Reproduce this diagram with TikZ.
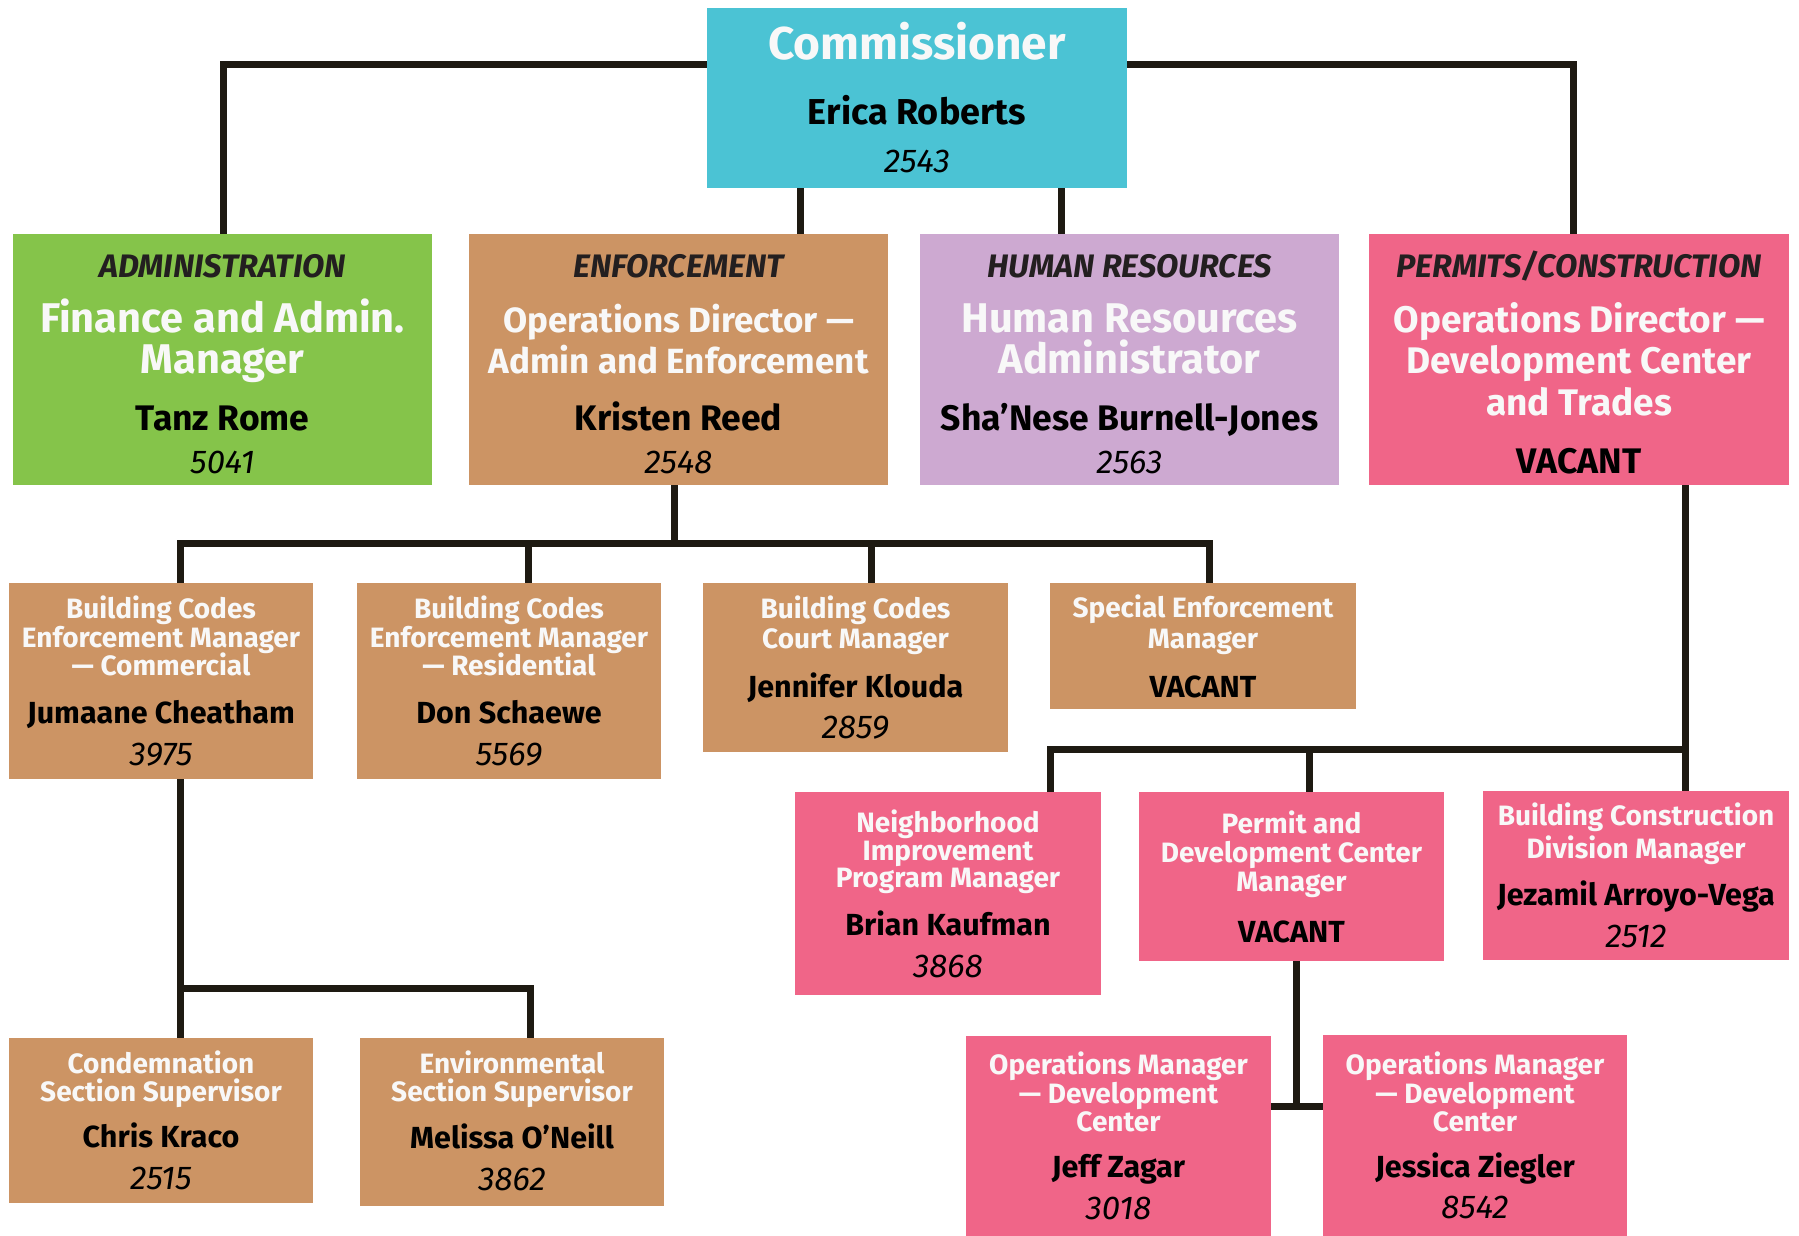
\documentclass[tikz,border=0pt]{standalone}
\usepackage{fontspec}
\setmainfont{Fira Sans}
\usetikzlibrary{backgrounds}
\definecolor{ccyan}{HTML}{4BC3D4}
\definecolor{cgreen}{HTML}{85C44A}
\definecolor{ctan}{HTML}{CC9464}
\definecolor{clav}{HTML}{CDA9D1}
\definecolor{cpink}{HTML}{F06588}
\definecolor{cdark}{HTML}{231F20}
\definecolor{cline}{HTML}{1E1A12}
\definecolor{cwhite}{HTML}{F8F8F8}
\newcommand\tl[5]{\node[#4] (#1) at (#2,#3) {#5};}
\begin{document}
\begin{tikzpicture}[x=1pt,y=-1pt,
  obox/.style={draw=none,inner sep=0pt,outer sep=0pt,anchor=north west},
  txt/.style={inner sep=0pt,outer sep=0pt,anchor=base},
  ttlA/.style={txt,text=cwhite,font=\fontsize{46}{46}\selectfont\bfseries},
  nmC/.style={txt,text=black,font=\fontsize{36}{36}\selectfont\bfseries},
  extT/.style={txt,text=black,font=\fontsize{33}{33}\selectfont\itshape},
  dept/.style={txt,text=cdark,font=\fontsize{32.5}{32.5}\selectfont\bfseries\itshape},
  ttlB/.style={txt,text=cwhite,font=\fontsize{41.5}{41.5}\selectfont\bfseries},
  ttlE/.style={txt,text=cwhite,font=\fontsize{35}{35}\selectfont\bfseries},
  ttlP/.style={txt,text=cwhite,font=\fontsize{37}{37}\selectfont\bfseries},
  nmB/.style={txt,text=black,font=\fontsize{35.5}{35.5}\selectfont\bfseries},
  ttlS/.style={txt,text=cwhite,font=\fontsize{28}{28}\selectfont\bfseries},
  nmS/.style={txt,text=black,font=\fontsize{30.5}{30.5}\selectfont\bfseries},
  extS/.style={txt,text=black,font=\fontsize{33}{33}\selectfont\itshape},
  conn/.style={draw=cline,line width=7pt,line cap=rect,line join=miter}]
\useasboundingbox (0,0) rectangle (1799,1236);
% boxes
\node[obox,fill=ccyan,minimum width=420pt,minimum height=180pt] (comm) at (707,8) {};
\node[obox,fill=cgreen,minimum width=419pt,minimum height=251pt] (adm) at (13,234) {};
\node[obox,fill=ctan,minimum width=419pt,minimum height=251pt] (enf) at (469,234) {};
\node[obox,fill=clav,minimum width=419pt,minimum height=251pt] (hr) at (920,234) {};
\node[obox,fill=cpink,minimum width=420pt,minimum height=251pt] (perm) at (1369,234) {};
\node[obox,fill=ctan,minimum width=304pt,minimum height=196pt] (bcc) at (9,583) {};
\node[obox,fill=ctan,minimum width=304pt,minimum height=196pt] (bcr) at (357,583) {};
\node[obox,fill=ctan,minimum width=305pt,minimum height=169pt] (court) at (703,583) {};
\node[obox,fill=ctan,minimum width=306pt,minimum height=126pt] (spec) at (1050,583) {};
\node[obox,fill=cpink,minimum width=306pt,minimum height=203pt] (nip) at (795,792) {};
\node[obox,fill=cpink,minimum width=305pt,minimum height=169pt] (pdc) at (1139,792) {};
\node[obox,fill=cpink,minimum width=306pt,minimum height=169pt] (bcd) at (1483,791) {};
\node[obox,fill=ctan,minimum width=304pt,minimum height=165pt] (cond) at (9,1038) {};
\node[obox,fill=ctan,minimum width=304pt,minimum height=168pt] (env) at (360,1038) {};
\node[obox,fill=cpink,minimum width=305pt,minimum height=200pt] (jeff) at (966,1036) {};
\node[obox,fill=cpink,minimum width=304pt,minimum height=201pt] (jess) at (1323,1035) {};
% texts
\tl{comm1}{917}{60}{ttlA}{Commissioner}
\tl{comm2}{917}{125}{nmC}{Erica Roberts}
\tl{comm3}{917}{172}{extT}{2543}
\tl{adm1}{222.5}{277}{dept}{ADMINISTRATION}
\tl{adm2}{222.5}{332}{ttlB}{Finance and Admin.}
\tl{adm3}{222.5}{373}{ttlB}{Manager}
\tl{adm4}{222.5}{430}{nmB}{Tanz Rome}
\tl{adm5}{222.5}{473}{extT}{5041}
\tl{enf1}{678.5}{277}{dept}{ENFORCEMENT}
\tl{enf2}{678.5}{332}{ttlE}{Operations Director —}
\tl{enf3}{678.5}{373}{ttlE}{Admin and Enforcement}
\tl{enf4}{678.5}{430}{nmB}{Kristen Reed}
\tl{enf5}{678.5}{473}{extT}{2548}
\tl{hr1}{1129.5}{277}{dept}{HUMAN RESOURCES}
\tl{hr2}{1129.5}{332}{ttlB}{Human Resources}
\tl{hr3}{1129.5}{373}{ttlB}{Administrator}
\tl{hr4}{1129.5}{430}{nmB}{Sha’Nese Burnell-Jones}
\tl{hr5}{1129.5}{473}{extT}{2563}
\tl{perm1}{1579}{277}{dept}{PERMITS/CONSTRUCTION}
\tl{perm2}{1579}{332}{ttlP}{Operations Director —}
\tl{perm3}{1579}{373}{ttlP}{Development Center}
\tl{perm4}{1579}{415}{ttlP}{and Trades}
\tl{perm5}{1579}{473}{nmB}{VACANT}
\tl{bcc1}{161}{618}{ttlS}{Building Codes}
\tl{bcc2}{161}{647}{ttlS}{Enforcement Manager}
\tl{bcc3}{161}{675}{ttlS}{— Commercial}
\tl{bcc4}{161}{723}{nmS}{Jumaane Cheatham}
\tl{bcc5}{161}{765}{extS}{3975}
\tl{bcr1}{509}{618}{ttlS}{Building Codes}
\tl{bcr2}{509}{647}{ttlS}{Enforcement Manager}
\tl{bcr3}{509}{675}{ttlS}{— Residential}
\tl{bcr4}{509}{723}{nmS}{Don Schaewe}
\tl{bcr5}{509}{765}{extS}{5569}
\tl{court1}{855.5}{618}{ttlS}{Building Codes}
\tl{court2}{855.5}{648}{ttlS}{Court Manager}
\tl{court3}{855.5}{697}{nmS}{Jennifer Klouda}
\tl{court4}{855.5}{738}{extS}{2859}
\tl{spec1}{1203}{617}{ttlS}{Special Enforcement}
\tl{spec2}{1203}{648}{ttlS}{Manager}
\tl{spec3}{1203}{697}{nmS}{VACANT}
\tl{nip1}{948}{832}{ttlS}{Neighborhood}
\tl{nip2}{948}{860}{ttlS}{Improvement}
\tl{nip3}{948}{887}{ttlS}{Program Manager}
\tl{nip4}{948}{935}{nmS}{Brian Kaufman}
\tl{nip5}{948}{977}{extS}{3868}
\tl{pdc1}{1291.5}{833}{ttlS}{Permit and}
\tl{pdc2}{1291.5}{862}{ttlS}{Development Center}
\tl{pdc3}{1291.5}{891}{ttlS}{Manager}
\tl{pdc4}{1291.5}{942}{nmS}{VACANT}
\tl{bcd1}{1636}{825}{ttlS}{Building Construction}
\tl{bcd2}{1636}{858}{ttlS}{Division Manager}
\tl{bcd3}{1636}{905}{nmS}{Jezamil Arroyo-Vega}
\tl{bcd4}{1636}{947}{extS}{2512}
\tl{cond1}{161}{1073}{ttlS}{Condemnation}
\tl{cond2}{161}{1101}{ttlS}{Section Supervisor}
\tl{cond3}{161}{1147}{nmS}{Chris Kraco}
\tl{cond4}{161}{1189}{extS}{2515}
\tl{env1}{512}{1073}{ttlS}{Environmental}
\tl{env2}{512}{1101}{ttlS}{Section Supervisor}
\tl{env3}{512}{1148}{nmS}{Melissa O’Neill}
\tl{env4}{512}{1190}{extS}{3862}
\tl{jeff1}{1118.5}{1074}{ttlS}{Operations Manager}
\tl{jeff2}{1118.5}{1103}{ttlS}{— Development}
\tl{jeff3}{1118.5}{1131}{ttlS}{Center}
\tl{jeff4}{1118.5}{1177}{nmS}{Jeff Zagar}
\tl{jeff5}{1118.5}{1219}{extS}{3018}
\tl{jess1}{1475}{1074}{ttlS}{Operations Manager}
\tl{jess2}{1475}{1103}{ttlS}{— Development}
\tl{jess3}{1475}{1131}{ttlS}{Center}
\tl{jess4}{1475}{1177}{nmS}{Jessica Ziegler}
\tl{jess5}{1475}{1218}{extS}{8542}
% connector coordinates
\coordinate (cL) at (223,65);
\coordinate (cR) at (1573,65);
\coordinate (cE) at (800,65);
\coordinate (cH) at (1061,65);
\coordinate (eb) at (674.5,543);
\coordinate (ebL) at (180,543);
\coordinate (ebR) at (1209,543);
\coordinate (eb2) at (528,543);
\coordinate (eb3) at (871,543);
\coordinate (pb) at (1685,749);
\coordinate (pbL) at (1050,749);
\coordinate (pb2) at (1309,749);
\coordinate (cb) at (180,988);
\coordinate (cbR) at (530,988);
\coordinate (ob) at (1296,1106);
\begin{scope}[on background layer]
\draw[conn] (comm.west |- cL) -- (cL) -- (adm.north -| cL);
\draw[conn] (comm.east |- cR) -- (cR) -- (perm.north -| cR);
\draw[conn] (comm.south -| cE) -- (enf.north -| cE);
\draw[conn] (comm.south -| cH) -- (hr.north -| cH);
\draw[conn] (enf.south -| eb) -- (eb);
\draw[conn] (bcc.north -| ebL) -- (ebL) -- (ebR) -- (spec.north -| ebR);
\draw[conn] (eb2) -- (bcr.north -| eb2);
\draw[conn] (eb3) -- (court.north -| eb3);
\draw[conn] (perm.south -| pb) -- (bcd.north -| pb);
\draw[conn] (pb) -- (pbL) -- (nip.north -| pbL);
\draw[conn] (pb2) -- (pdc.north -| pb2);
\draw[conn] (bcc.south -| cb) -- (cond.north -| cb);
\draw[conn] (cb) -- (cbR) -- (env.north -| cbR);
\draw[conn] (pdc.south -| ob) -- (ob);
\draw[conn] (jeff.east |- ob) -- (jess.west |- ob);
\end{scope}
\end{tikzpicture}
\end{document}
